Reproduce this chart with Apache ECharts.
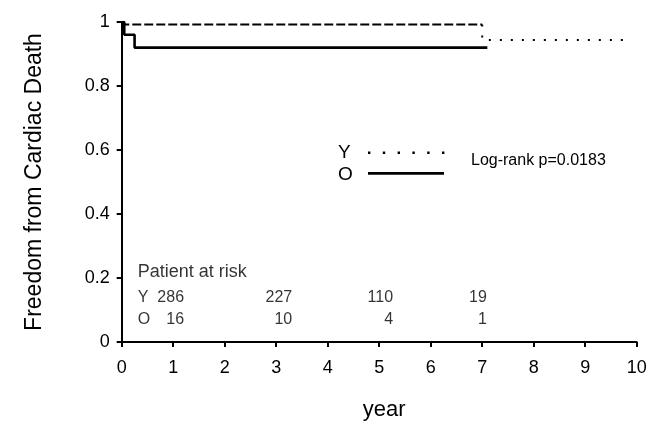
<!DOCTYPE html>
<html>
<head>
<meta charset="utf-8">
<script src="https://cdn.jsdelivr.net/npm/echarts@6/dist/echarts.min.js"></script>
<style>html,body{margin:0;padding:0;background:#fff}#c{width:657px;height:424px}</style>
</head>
<body>
<div id="c"></div>
<script>
// Kaplan-Meier curves (time in years, survival fraction)
var yEarlyTime = [0, 0.03, 7.0];
var yEarlySurv = [1, 0.992, 0.992];
var yLateTime = [7.0, 7.0, 9.9];
var yLateSurv = [0.992, 0.944, 0.944];
var oTime = [0, 0.05, 0.25, 7.1];
var oSurv = [1, 0.96, 0.92, 0.92];

// Patients at risk
var riskYears = [1.22, 3.32, 5.28, 7.1];
var riskY = ['286', '227', '110', '19'];
var riskO = ['16', '10', '4', '1'];
var riskRowY = 0.1375, riskRowO = 0.069, riskTitleY = 0.219;

var xTicks = [0,1,2,3,4,5,6,7,8,9,10];
var yTicks = [0,0.2,0.4,0.6,0.8,1];

var FONT = '"Liberation Sans", Arial, Helvetica, sans-serif';

function pts(t, s) { return t.map(function (v, i) { return [v, s[i]]; }); }

var riskData = [];
riskYears.forEach(function (x, i) {
  riskData.push([x, riskRowY, riskY[i]]);
  riskData.push([x, riskRowO, riskO[i]]);
});
var rowLabels = [[0.3, riskRowY, 'Y'], [0.3, riskRowO, 'O'], [0.3, riskTitleY, 'Patient at risk']];

var chart = echarts.init(document.getElementById('c'));
chart.setOption({
  animation: false,
  backgroundColor: '#fff',
  grid: { left: 121.7, right: 20.3, top: 22, bottom: 82, containLabel: false, outerBoundsMode: 'none' },
  xAxis: {
    type: 'value', min: 0, max: 10, interval: 1,
    name: 'year', nameLocation: 'middle', nameGap: 57,
    nameTextStyle: { fontFamily: FONT, fontSize: 22, color: '#000', padding: [0, 0, 0, 10] },
    axisLine: { onZero: false, lineStyle: { color: '#000', width: 2 } },
    axisTick: { show: true, length: 5, lineStyle: { color: '#000', width: 2 } },
    axisLabel: { fontFamily: FONT, fontSize: 18, color: '#000', margin: 17 },
    splitLine: { show: false }
  },
  yAxis: {
    type: 'value', min: 0, max: 1, interval: 0.2,
    name: 'Freedom from Cardiac Death', nameLocation: 'middle', nameGap: 76,
    nameTextStyle: { fontFamily: FONT, fontSize: 23, color: '#000' },
    axisLine: { show: true, lineStyle: { color: '#000', width: 2 } },
    axisTick: { show: true, length: 5, lineStyle: { color: '#000', width: 2 } },
    axisLabel: { fontFamily: FONT, fontSize: 18, color: '#000', margin: 12,
      formatter: function (v) { return (v === 0 || v === 1) ? String(v) : v.toFixed(1); } },
    splitLine: { show: false }
  },
  series: [
    { type: 'line', name: 'Y', data: pts(yEarlyTime, yEarlySurv), step: 'end', symbol: 'none',
      lineStyle: { color: '#000', width: 2, type: [9, 3] }, z: 3 },
    { type: 'line', name: 'Y late', data: pts(yLateTime, yLateSurv), symbol: 'none',
      lineStyle: { color: '#000', width: 2, type: [2, 9] }, z: 3 },
    { type: 'line', name: 'O', data: pts(oTime, oSurv), step: 'end', symbol: 'none',
      lineStyle: { color: '#000', width: 2.6 }, z: 4 },
    { type: 'scatter', data: riskData, symbolSize: 1, itemStyle: { color: 'rgba(0,0,0,0)' },
      label: { show: true, position: 'left', distance: 0, fontFamily: FONT, fontSize: 16, color: '#000',
        formatter: function (p) { return p.data[2]; } }, silent: true },
    { type: 'scatter', data: rowLabels, symbolSize: 1, itemStyle: { color: 'rgba(0,0,0,0)' },
      label: { show: true, position: 'right', distance: 0, fontFamily: FONT, color: '#000',
        fontSize: 16,
        rich: { t: { fontFamily: FONT, fontSize: 18, color: '#000' } },
        formatter: function (p) { return p.data[2].length > 1 ? '{t|' + p.data[2] + '}' : p.data[2]; } }, silent: true }
  ],
  graphic: [
    { type: 'text', left: 338, top: 143, style: { text: 'Y', font: '19px ' + FONT, fill: '#000' } },
    { type: 'text', left: 338, top: 165, style: { text: 'O', font: '19px ' + FONT, fill: '#000' } },
    { type: 'line', shape: { x1: 368, y1: 152.7, x2: 445, y2: 152.7 },
      style: { stroke: '#000', lineWidth: 2.4, lineDash: [2.4, 12.4] } },
    { type: 'line', shape: { x1: 368, y1: 173.3, x2: 444, y2: 173.3 },
      style: { stroke: '#000', lineWidth: 2.8 } },
    { type: 'text', left: 471, top: 153, style: { text: 'Log-rank p=0.0183', font: '16px ' + FONT, fill: '#000' } }
  ]
});
</script>
</body>
</html>
